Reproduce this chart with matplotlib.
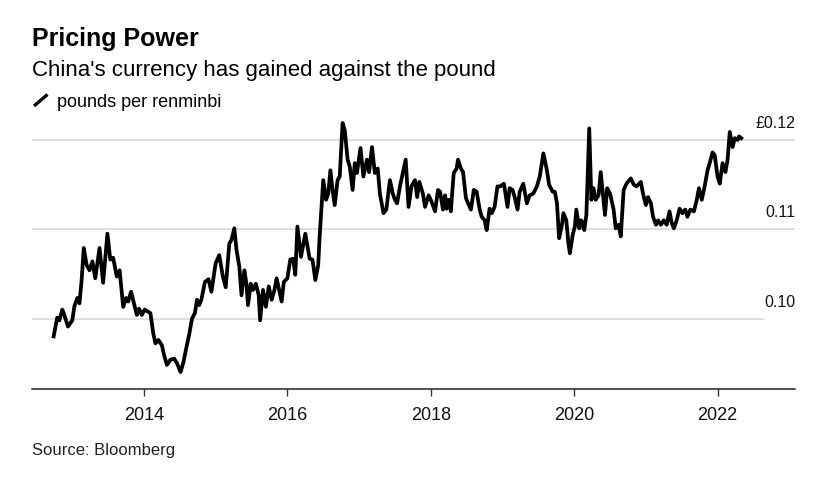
import matplotlib
matplotlib.use("Agg")
import matplotlib.pyplot as plt
from matplotlib.lines import Line2D

plt.rcParams['font.family'] = ['Liberation Sans', 'DejaVu Sans']

# pounds per renminbi (decimal year, value)
dates = [
    2012.74, 2012.77, 2012.79, 2012.82, 2012.86, 2012.88, 2012.94, 2013.00, 2013.03, 2013.07,
    2013.10, 2013.13, 2013.16, 2013.20, 2013.24, 2013.28, 2013.32, 2013.38, 2013.43, 2013.49,
    2013.53, 2013.57, 2013.62, 2013.66, 2013.71, 2013.75, 2013.78, 2013.82, 2013.90, 2013.93,
    2013.97, 2014.01, 2014.09, 2014.13, 2014.16, 2014.20, 2014.25, 2014.28, 2014.32, 2014.37,
    2014.42, 2014.46, 2014.51, 2014.55, 2014.59, 2014.63, 2014.67, 2014.71, 2014.74, 2014.77,
    2014.80, 2014.85, 2014.90, 2014.94, 2015.00, 2015.05, 2015.10, 2015.14, 2015.19, 2015.22,
    2015.26, 2015.29, 2015.33, 2015.36, 2015.40, 2015.43, 2015.45, 2015.49, 2015.52, 2015.56,
    2015.60, 2015.62, 2015.66, 2015.70, 2015.74, 2015.78, 2015.82, 2015.85, 2015.89, 2015.92,
    2015.95, 2016.00, 2016.04, 2016.08, 2016.11, 2016.14, 2016.19, 2016.25, 2016.31, 2016.35,
    2016.39, 2016.43, 2016.45, 2016.50, 2016.54, 2016.57, 2016.60, 2016.63, 2016.66, 2016.70,
    2016.73, 2016.77, 2016.80, 2016.84, 2016.87, 2016.91, 2016.94, 2016.97, 2017.02, 2017.06,
    2017.11, 2017.14, 2017.18, 2017.22, 2017.26, 2017.29, 2017.34, 2017.38, 2017.43, 2017.47,
    2017.50, 2017.53, 2017.57, 2017.61, 2017.65, 2017.69, 2017.73, 2017.78, 2017.81, 2017.84,
    2017.89, 2017.92, 2017.97, 2018.01, 2018.06, 2018.10, 2018.13, 2018.17, 2018.20, 2018.22,
    2018.25, 2018.28, 2018.32, 2018.36, 2018.38, 2018.42, 2018.45, 2018.49, 2018.52, 2018.56,
    2018.60, 2018.64, 2018.68, 2018.71, 2018.75, 2018.78, 2018.82, 2018.85, 2018.89, 2018.93,
    2018.97, 2019.02, 2019.07, 2019.10, 2019.14, 2019.17, 2019.21, 2019.24, 2019.29, 2019.34,
    2019.38, 2019.43, 2019.48, 2019.52, 2019.57, 2019.62, 2019.65, 2019.70, 2019.73, 2019.76,
    2019.79, 2019.83, 2019.85, 2019.89, 2019.92, 2019.94, 2019.98, 2020.01, 2020.03, 2020.07,
    2020.10, 2020.14, 2020.17, 2020.21, 2020.24, 2020.27, 2020.30, 2020.34, 2020.37, 2020.40,
    2020.43, 2020.46, 2020.50, 2020.55, 2020.58, 2020.62, 2020.65, 2020.69, 2020.73, 2020.79,
    2020.83, 2020.87, 2020.93, 2020.96, 2021.00, 2021.03, 2021.07, 2021.10, 2021.14, 2021.17,
    2021.21, 2021.25, 2021.29, 2021.33, 2021.36, 2021.39, 2021.43, 2021.47, 2021.51, 2021.55,
    2021.58, 2021.62, 2021.67, 2021.71, 2021.74, 2021.78, 2021.82, 2021.86, 2021.89, 2021.93,
    2021.96, 2022.00, 2022.03, 2022.07, 2022.11, 2022.14, 2022.17, 2022.21, 2022.24, 2022.28,
    2022.30, 2022.33,
]
gbp_per_cny = [
    0.0980, 0.0993, 0.1001, 0.0998, 0.1010, 0.1006, 0.0991, 0.0998, 0.1014, 0.1023,
    0.1017, 0.1043, 0.1079, 0.1060, 0.1054, 0.1064, 0.1045, 0.1079, 0.1040, 0.1095,
    0.1066, 0.1068, 0.1047, 0.1054, 0.1013, 0.1023, 0.1019, 0.1030, 0.1004, 0.1011,
    0.1004, 0.1010, 0.1006, 0.0983, 0.0972, 0.0976, 0.0970, 0.0959, 0.0948, 0.0954,
    0.0955, 0.0950, 0.0940, 0.0951, 0.0967, 0.0982, 0.1000, 0.1006, 0.1021, 0.1015,
    0.1021, 0.1041, 0.1044, 0.1030, 0.1062, 0.1071, 0.1047, 0.1035, 0.1084, 0.1088,
    0.1101, 0.1077, 0.1058, 0.1026, 0.1054, 0.1038, 0.1015, 0.1039, 0.1032, 0.1039,
    0.1026, 0.0998, 0.1032, 0.1013, 0.1036, 0.1021, 0.1032, 0.1045, 0.1030, 0.1019,
    0.1041, 0.1045, 0.1066, 0.1067, 0.1049, 0.1103, 0.1069, 0.1095, 0.1067, 0.1066,
    0.1043, 0.1060, 0.1092, 0.1155, 0.1133, 0.1140, 0.1166, 0.1144, 0.1127, 0.1155,
    0.1159, 0.1219, 0.1211, 0.1178, 0.1170, 0.1144, 0.1174, 0.1163, 0.1191, 0.1159,
    0.1178, 0.1164, 0.1192, 0.1163, 0.1168, 0.1140, 0.1118, 0.1122, 0.1155, 0.1140,
    0.1133, 0.1129, 0.1148, 0.1163, 0.1178, 0.1125, 0.1148, 0.1155, 0.1136, 0.1153,
    0.1140, 0.1125, 0.1138, 0.1131, 0.1120, 0.1144, 0.1142, 0.1122, 0.1138, 0.1123,
    0.1133, 0.1120, 0.1163, 0.1168, 0.1178, 0.1168, 0.1164, 0.1135, 0.1129, 0.1122,
    0.1144, 0.1142, 0.1123, 0.1114, 0.1110, 0.1099, 0.1123, 0.1118, 0.1125, 0.1148,
    0.1148, 0.1151, 0.1125, 0.1146, 0.1144, 0.1136, 0.1122, 0.1142, 0.1151, 0.1129,
    0.1138, 0.1140, 0.1148, 0.1159, 0.1185, 0.1166, 0.1150, 0.1142, 0.1142, 0.1129,
    0.1090, 0.1105, 0.1118, 0.1110, 0.1084, 0.1073, 0.1094, 0.1103, 0.1122, 0.1101,
    0.1110, 0.1099, 0.1116, 0.1213, 0.1133, 0.1146, 0.1133, 0.1138, 0.1164, 0.1140,
    0.1116, 0.1146, 0.1140, 0.1122, 0.1101, 0.1105, 0.1092, 0.1144, 0.1151, 0.1157,
    0.1150, 0.1148, 0.1153, 0.1140, 0.1127, 0.1136, 0.1129, 0.1114, 0.1105, 0.1110,
    0.1105, 0.1110, 0.1105, 0.1120, 0.1107, 0.1101, 0.1110, 0.1123, 0.1118, 0.1122,
    0.1114, 0.1122, 0.1120, 0.1133, 0.1146, 0.1133, 0.1148, 0.1166, 0.1174, 0.1186,
    0.1183, 0.1159, 0.1151, 0.1174, 0.1164, 0.1178, 0.1209, 0.1192, 0.1202, 0.1200,
    0.1204, 0.1202,
]

year_ticks = [2014, 2016, 2018, 2020, 2022]
y_levels = [0.10, 0.11, 0.12]
y_labels = ["0.10", "0.11", "£0.12"]
grid_ends = [0.958, 1.0, 1.0]

fig = plt.figure(figsize=(8.27, 4.88), dpi=100)
ax = fig.add_axes([32 / 827, 1 - 389.3 / 488, 763 / 827, (389.3 - 118) / 488])

# gridlines + labels sitting above them
for lvl, lbl, end in zip(y_levels, y_labels, grid_ends):
    ax.axhline(lvl, xmin=0, xmax=end, color="#dcdcdc", lw=1.3, zorder=1)
    ax.annotate(lbl, xy=(1.0, lvl), xycoords=("axes fraction", "data"),
                xytext=(0, 8.5), textcoords="offset points",
                ha="right", va="baseline", fontsize=11.5, color="#111111")

ax.plot(dates, gbp_per_cny, color="black", lw=2.7, solid_joinstyle="round", zorder=3)

ax.set_xlim(2012.438, 2023.08)
ax.set_ylim(0.09207, 0.12246)

for side in ["top", "right", "left"]:
    ax.spines[side].set_visible(False)
ax.spines["bottom"].set_color("#222222")
ax.spines["bottom"].set_linewidth(1.1)

ax.set_yticks([])
ax.set_xticks(year_ticks)
ax.set_xticklabels([str(y) for y in year_ticks])
ax.tick_params(axis="x", length=5, width=1, color="#333333", pad=7.5,
               labelsize=13, labelcolor="#111111")

# header
fig.text(32 / 827, 1 - 46 / 488, "Pricing Power", fontsize=18, fontweight="bold",
         ha="left", va="baseline", color="black")
fig.text(32 / 827, 1 - 76 / 488, "China's currency has gained against the pound",
         fontsize=16, ha="left", va="baseline", color="black")
fig.add_artist(Line2D([34 / 827, 47.5 / 827], [1 - 106 / 488, 1 - 94.5 / 488],
                      color="black", lw=2.4, solid_capstyle="butt"))
fig.text(57 / 827, 1 - 107 / 488, "pounds per renminbi", fontsize=13,
         ha="left", va="baseline", color="black")

fig.text(32 / 827, 1 - 455 / 488, "Source: Bloomberg", fontsize=12,
         ha="left", va="baseline", color="#222222")

fig.savefig("out.png", dpi=100, facecolor="white")
